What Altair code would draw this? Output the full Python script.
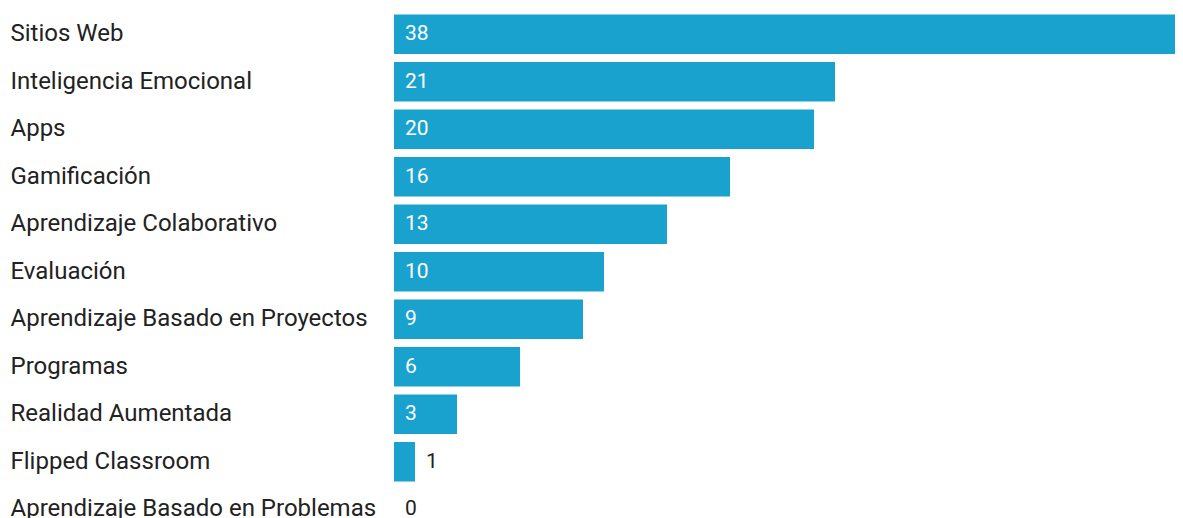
import altair as alt
import pandas as pd

categories = [
    "Sitios Web", "Inteligencia Emocional", "Apps", "Gamificación",
    "Aprendizaje Colaborativo", "Evaluación", "Aprendizaje Basado en Proyectos",
    "Programas", "Realidad Aumentada", "Flipped Classroom",
    "Aprendizaje Basado en Problemas",
]
values = [38, 21, 20, 16, 13, 10, 9, 6, 3, 1, 0]

df = pd.DataFrame({"cat": categories, "val": values})

FONT = "Roboto"
BAR = "#1aa2ce"
DARK = "#222222"

y_enc = alt.Y(
    "cat:N", sort=categories, title=None,
    scale=alt.Scale(paddingInner=0.168, paddingOuter=0.084),
    axis=alt.Axis(
        labelAlign="left", labelPadding=384, labelLimit=0, ticks=False,
        domain=False, labelFont=FONT, labelFontSize=24, labelColor=DARK,
    ),
)
x_scale = alt.Scale(domain=[0, 37.57], nice=False, zero=True)

bars = alt.Chart(df).mark_bar(color=BAR, clip=True).encode(
    y=y_enc,
    x=alt.X("val:Q", scale=x_scale, axis=None),
)

labels = alt.Chart(df).transform_calculate(
    pos="datum.val >= 3 ? 0 : datum.val",
    inside="datum.val >= 3",
).mark_text(align="left", baseline="middle", dx=11, font=FONT, fontSize=21).encode(
    y=alt.Y("cat:N", sort=categories),
    x=alt.X("pos:Q", scale=x_scale),
    text="val:Q",
    color=alt.condition("datum.inside", alt.value("#ffffff"), alt.value(DARK)),
)

chart = (
    alt.layer(bars, labels)
    .properties(
        width=789, height=522.5,
        autosize=alt.AutoSizeParams(type="none"),
        padding={"left": 386, "top": 2.5, "right": -8, "bottom": -15},
    )
    .configure_view(stroke=None)
)

chart.save("out.html", embed_options={"renderer": "svg", "actions": False})
